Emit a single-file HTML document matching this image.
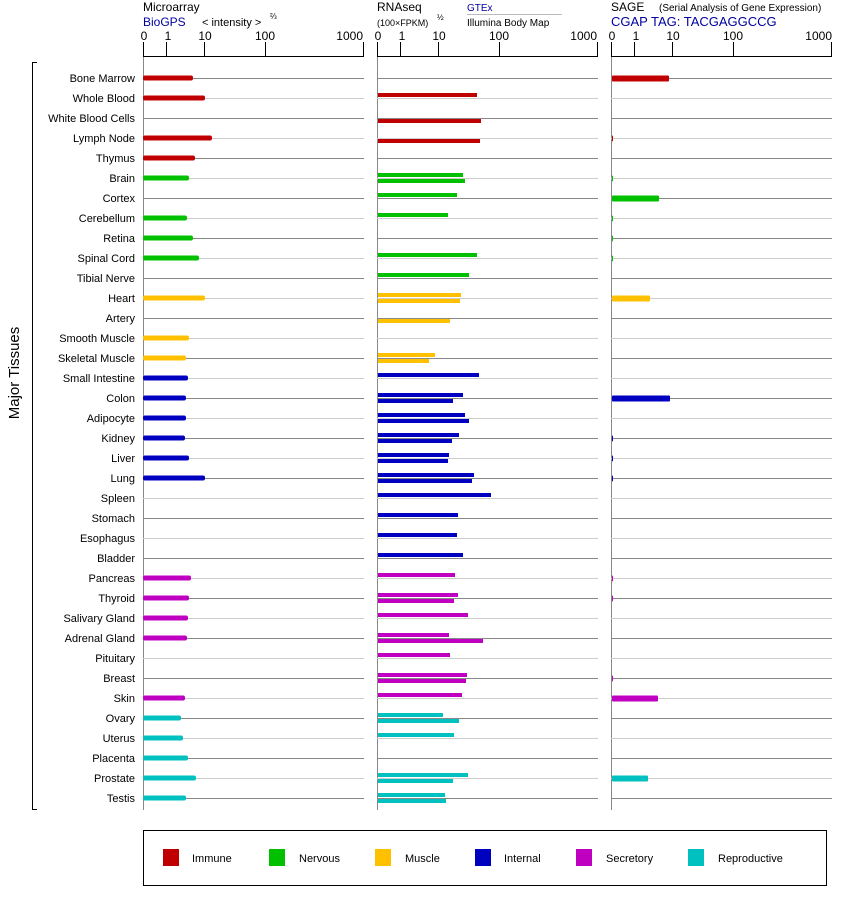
<!DOCTYPE html>
<html><head><meta charset="utf-8"><style>
body{margin:0;background:#fff}
svg text{font-family:"Liberation Sans",sans-serif;fill:#000}
</style></head><body>
<svg id="s" width="842" height="900" xmlns="http://www.w3.org/2000/svg">
<g font-size="12">
<text x="143" y="11">Microarray</text>
<text x="143" y="26" style="fill:#0000a0">BioGPS</text>
<text x="202" y="26" font-size="11">&lt; intensity &gt;</text><text x="270" y="19" font-size="8">⅔</text>
<text x="377" y="11">RNAseq</text>
<text x="377" y="26" font-size="9">(100×FPKM)</text><text x="437" y="20" font-size="8">½</text>
<text x="467" y="11" font-size="10" style="fill:#0000a0">GTEx</text>
<line x1="467" y1="14.5" x2="562" y2="14.5" stroke="#bbb"/>
<text x="467" y="26" font-size="10">Illumina Body Map</text>
<text x="611" y="11">SAGE</text>
<text x="659" y="11" font-size="10">(Serial Analysis of Gene Expression)</text>
<text x="611" y="26" style="fill:#0000a0" font-size="13">CGAP TAG: TACGAGGCCG</text>
</g>
<g id="ax"></g>
<g id="rows" font-size="11"></g>
<line x1="32.5" y1="62" x2="32.5" y2="810" stroke="#000"/>
<line x1="32" y1="62.5" x2="37" y2="62.5" stroke="#000"/>
<line x1="32" y1="809.5" x2="37" y2="809.5" stroke="#000"/>
<text x="0" y="0" font-size="15" transform="translate(19,373) rotate(-90)" text-anchor="middle">Major Tissues</text>
<rect x="143.5" y="830.5" width="683" height="55" fill="none" stroke="#000"/>
<g font-size="11">
<rect x="163" y="849" width="16" height="17" fill="#c00000"/><text x="192" y="862">Immune</text>
<rect x="269" y="849" width="16" height="17" fill="#00c000"/><text x="299" y="862">Nervous</text>
<rect x="375" y="849" width="16" height="17" fill="#ffc000"/><text x="405" y="862">Muscle</text>
<rect x="475" y="849" width="16" height="17" fill="#0000c0"/><text x="504" y="862">Internal</text>
<rect x="576" y="849" width="16" height="17" fill="#c000c0"/><text x="606" y="862">Secretory</text>
<rect x="688" y="849" width="16" height="17" fill="#00c0c0"/><text x="718" y="862">Reproductive</text>
</g>
<g id="lbl" font-size="11" text-anchor="end">
<text x="135" y="82">Bone Marrow</text><text x="135" y="102">Whole Blood</text><text x="135" y="122">White Blood Cells</text><text x="135" y="142">Lymph Node</text><text x="135" y="162">Thymus</text><text x="135" y="182">Brain</text><text x="135" y="202">Cortex</text><text x="135" y="222">Cerebellum</text><text x="135" y="242">Retina</text><text x="135" y="262">Spinal Cord</text><text x="135" y="282">Tibial Nerve</text><text x="135" y="302">Heart</text><text x="135" y="322">Artery</text><text x="135" y="342">Smooth Muscle</text><text x="135" y="362">Skeletal Muscle</text><text x="135" y="382">Small Intestine</text><text x="135" y="402">Colon</text><text x="135" y="422">Adipocyte</text><text x="135" y="442">Kidney</text><text x="135" y="462">Liver</text><text x="135" y="482">Lung</text><text x="135" y="502">Spleen</text><text x="135" y="522">Stomach</text><text x="135" y="542">Esophagus</text><text x="135" y="562">Bladder</text><text x="135" y="582">Pancreas</text><text x="135" y="602">Thyroid</text><text x="135" y="622">Salivary Gland</text><text x="135" y="642">Adrenal Gland</text><text x="135" y="662">Pituitary</text><text x="135" y="682">Breast</text><text x="135" y="702">Skin</text><text x="135" y="722">Ovary</text><text x="135" y="742">Uterus</text><text x="135" y="762">Placenta</text><text x="135" y="782">Prostate</text><text x="135" y="802">Testis</text>
</g>
<g font-size="12" text-anchor="middle">
<text x="144" y="40">0</text><text x="168" y="40">1</text><text x="205" y="40">10</text><text x="265" y="40">100</text><text x="363" y="40" text-anchor="end">1000</text>
<text x="378" y="40">0</text><text x="402" y="40">1</text><text x="439" y="40">10</text><text x="499" y="40">100</text><text x="597" y="40" text-anchor="end">1000</text>
<text x="612" y="40">0</text><text x="636" y="40">1</text><text x="673" y="40">10</text><text x="733" y="40">100</text><text x="832" y="40" text-anchor="end">1000</text>
</g>
</svg>
<script>
var NS="http://www.w3.org/2000/svg";
function el(p,t,a){var e=document.createElementNS(NS,t);for(var k in a)e.setAttribute(k,a[k]);p.appendChild(e);return e;}
var ax=document.getElementById('ax'),rows=document.getElementById('rows');
var off=[0,23,61,122,220];
var panels=[[143,364],[377,598],[611,832]];
panels.forEach(function(p){
 el(ax,'line',{x1:p[0],y1:56.5,x2:p[1],y2:56.5,stroke:'#000'});
 off.forEach(function(o){el(ax,'line',{x1:p[0]+o+0.5,y1:42,x2:p[0]+o+0.5,y2:57,stroke:'#000'});});
 el(ax,'line',{x1:p[0]+0.5,y1:57,x2:p[0]+0.5,y2:810,stroke:'#888'});
 for(var i=0;i<37;i++){var y=78+i*20+0.5;el(rows,'line',{x1:p[0],y1:y,x2:p[1],y2:y,stroke:i%2?'#ccc':'#888'});}
});
var C={I:'#c00000',N:'#00c000',M:'#ffc000',T:'#0000c0',S:'#c000c0',R:'#00c0c0'};
var D=[['I',193,0,0,669],['I',205,477,0,0],['I',0,0,481,0],['I',212,0,480,613],['I',195,0,0,0],
['N',189,463,465,613],['N',0,457,0,659],['N',187,448,0,613],['N',193,0,0,613],['N',199,477,0,613],['N',0,469,0,0],
['M',205,461,460,650],['M',0,0,450,0],['M',189,0,0,0],['M',186,435,429,612],
['T',188,479,0,0],['T',186,463,453,670],['T',186,465,469,0],['T',185,459,452,613],['T',189,449,448,613],['T',205,474,472,613],['T',0,491,0,0],['T',0,458,0,0],['T',0,457,0,0],['T',0,463,0,0],
['S',191,455,0,613],['S',189,458,454,613],['S',188,468,0,0],['S',187,449,483,0],['S',0,450,0,0],['S',0,467,466,613],['S',185,462,0,658],
['R',181,443,459,0],['R',183,454,0,0],['R',188,0,0,612],['R',196,468,453,648],['R',186,445,446,0]];
D.forEach(function(d,i){var y=78+i*20,c=C[d[0]];
 if(d[1]){el(rows,'rect',{x:143,y:y-2.5,width:d[1]-143,height:5,fill:c,rx:2});}
 if(d[2]){el(rows,'rect',{x:378,y:y-5,width:d[2]-378,height:4,fill:c});}
 if(d[3]){el(rows,'rect',{x:378,y:y+1,width:d[3]-378,height:4,fill:c});}
 if(d[4]){el(rows,'rect',{x:612,y:y-2.5,width:d[4]-612,height:6,fill:c,rx:1});}
});
</script>
</body></html>
